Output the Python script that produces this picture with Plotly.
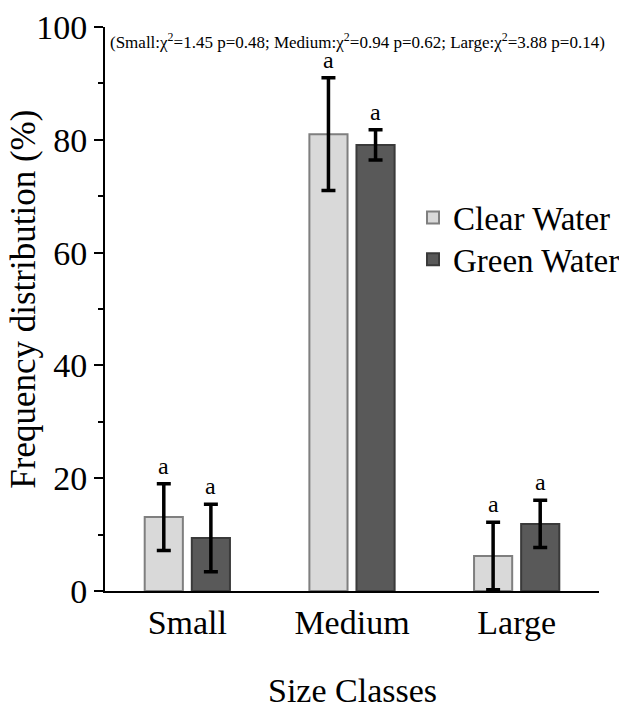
import plotly.graph_objects as go

categories = ["Small", "Medium", "Large"]
clear_vals = [13.1, 81.0, 6.2]
clear_err = [5.9, 10.0, 6.0]
green_vals = [9.4, 79.1, 11.9]
green_err = [6.0, 2.7, 4.2]
clear_letters = ["a", "a", "a"]
green_letters = ["a", "a", "a"]
y_ticks = [0, 20, 40, 60, 80, 100]
stats_text = "(Small:χ<sup>2</sup>=1.45 p=0.48; Medium:χ<sup>2</sup>=0.94 p=0.62; Large:χ<sup>2</sup>=3.88 p=0.14)"
y_title = "Frequency distribution (%)"
x_title = "Size Classes"

FONT = "Liberation Serif"

fig = go.Figure()
fig.add_trace(go.Bar(
    name="Clear Water", x=categories, y=clear_vals, legend="legend",
    marker=dict(color="#d9d9d9", line=dict(color="#7f7f7f", width=2)),
    error_y=dict(type="data", array=clear_err, color="black", thickness=3.5, width=7),
))
fig.add_trace(go.Bar(
    name="Green Water", x=categories, y=green_vals, legend="legend2",
    marker=dict(color="#595959", line=dict(color="#3a3a3a", width=2)),
    error_y=dict(type="data", array=green_err, color="black", thickness=3.5, width=7),
))

off = 0.143
for i, (v, e, t) in enumerate(zip(clear_vals, clear_err, clear_letters)):
    fig.add_annotation(x=i - off, y=v + e, text=t, showarrow=False, yanchor="bottom",
                       yshift=3, font=dict(family=FONT, size=24, color="black"))
for i, (v, e, t) in enumerate(zip(green_vals, green_err, green_letters)):
    fig.add_annotation(x=i + off, y=v + e, text=t, showarrow=False, yanchor="bottom",
                       yshift=3, font=dict(family=FONT, size=24, color="black"))

fig.add_annotation(x=0.006, y=0.975, xref="paper", yref="paper", text=stats_text,
                   showarrow=False, xanchor="left", yanchor="middle",
                   font=dict(family=FONT, size=17, color="black"))

# y-axis title (slightly above the plot centre, as in the reference)
fig.add_annotation(x=-0.1654, y=0.517, xref="paper", yref="paper", text=y_title,
                   textangle=-90, showarrow=False, xanchor="center", yanchor="middle",
                   font=dict(family=FONT, size=35, color="black"))

# x-axis title
fig.add_annotation(x=0.5, y=-0.1764, xref="paper", yref="paper", text=x_title,
                   showarrow=False, xanchor="center", yanchor="middle",
                   font=dict(family=FONT, size=34, color="black"))

leg_common = dict(xanchor="left", yanchor="middle", bgcolor="rgba(0,0,0,0)",
                  font=dict(family=FONT, size=33, color="black"), itemwidth=30)

fig.update_layout(
    width=627, height=706,
    template="none",
    paper_bgcolor="white", plot_bgcolor="white",
    margin=dict(l=97, r=36, t=19, b=123, autoexpand=False),
    barmode="group", bargap=0.428, bargroupgap=0.19,
    font=dict(family=FONT, size=34, color="black"),
    showlegend=True,
    legend=dict(x=0.6235, y=0.662, **leg_common),
    legend2=dict(x=0.6235, y=0.588, **leg_common),
    xaxis=dict(
        type="category", range=[-0.5, 2.5], showline=True, linecolor="black", linewidth=2,
        ticks="", showgrid=False, zeroline=False, automargin=False,
        ticklabelstandoff=0,
        tickfont=dict(family=FONT, size=34, color="black"),
    ),
    yaxis=dict(
        range=[0, 100], tickvals=y_ticks, ticktext=[str(t) for t in y_ticks],
        showline=True, linecolor="black", linewidth=2,
        ticks="outside", ticklen=9, tickwidth=2, tickcolor="black",
        minor=dict(ticks="outside", ticklen=5, tickwidth=1.5, tickcolor="black", dtick=10),
        showgrid=False, zeroline=False, automargin=False, ticklabeloverflow="allow",
        tickfont=dict(family=FONT, size=34, color="black"),
    ),
)

fig.write_html("out.html")
